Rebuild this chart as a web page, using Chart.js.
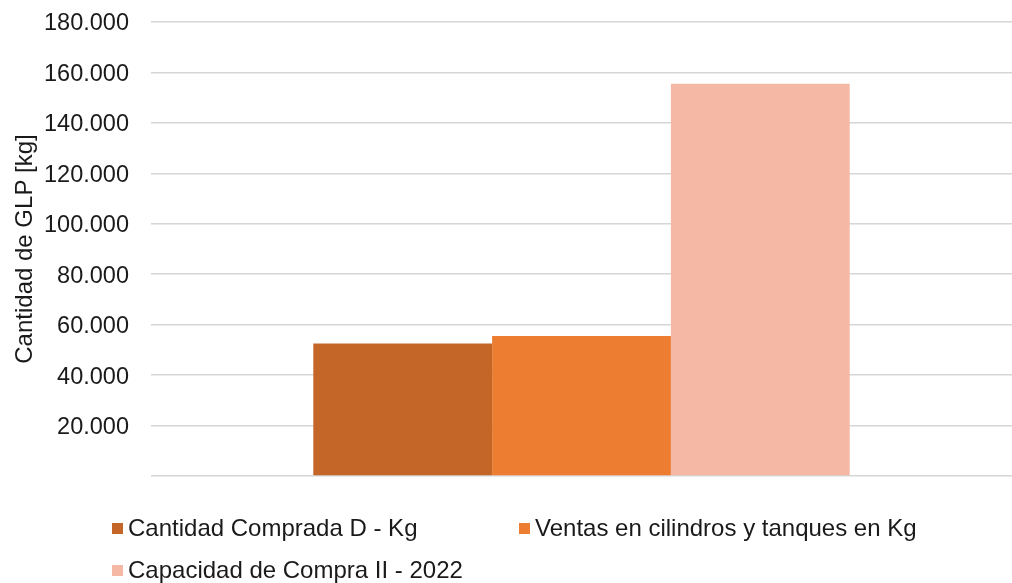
<!DOCTYPE html>
<html>
<head>
<meta charset="utf-8">
<script src="https://cdn.jsdelivr.net/npm/chart.js@4"></script>
<style>
  html, body { margin: 0; padding: 0; background: #fff; }
  #wrap { position: relative; width: 1012px; height: 583px; }
  #legend {
    position: absolute; left: 112px; top: 513px;
    display: grid; grid-template-columns: 407px auto; row-gap: 12px;
    font-family: 'Liberation Sans', Arial, sans-serif; font-size: 24px; color: #1a1a1a;
  }
  .item { display: flex; align-items: center; height: 30px; white-space: nowrap; }
  .box { width: 11px; height: 11px; margin-right: 5px; }
</style>
</head>
<body>
<div id="wrap">
  <canvas id="myChart" width="1012" height="583"></canvas>
  <div id="legend"></div>
</div>
<script>
const categories = [''];
const seriesNames = ['Cantidad Comprada D - Kg', 'Ventas en cilindros y tanques en Kg', 'Capacidad de Compra II - 2022'];
const seriesValues = [[52500], [55500], [155500]];
const seriesColors = ['#C46628', '#ED7D31', '#F4B8A4'];

const ctx = document.getElementById('myChart').getContext('2d');
const myChart = new Chart(ctx, {
  type: 'bar',
  data: {
    labels: categories,
    datasets: seriesNames.map((name, i) => ({
      label: name,
      data: seriesValues[i],
      backgroundColor: seriesColors[i],
      borderWidth: 0,
      categoryPercentage: 0.623,
      barPercentage: 1
    }))
  },
  options: {
    responsive: false,
    animation: false,
    layout: { padding: { top: 22, left: 7, right: 0, bottom: 107 } },
    scales: {
      x: { display: false },
      y: {
        min: 0,
        max: 180000,
        border: { display: false },
        grid: { color: '#d6d6d6', lineWidth: 1.5, drawTicks: false },
        ticks: {
          stepSize: 20000,
          padding: 22,
          labelOffset: 2,
          color: '#1a1a1a',
          font: { family: "'Liberation Sans', Arial", size: 23.5 },
          callback: v => v === 0 ? '' : v.toLocaleString('de-DE')
        },
        title: {
          display: true,
          text: 'Cantidad de GLP [kg]',
          color: '#1a1a1a',
          font: { family: "'Liberation Sans', Arial", size: 24 }
        },
        afterFit: scale => {
          scale.width = 144;
          scale.paddingTop = 0;
          scale.paddingBottom = 0;
        }
      }
    },
    plugins: {
      legend: { display: false },
      tooltip: { enabled: false }
    }
  }
});

// legend drawn as html from the datasets
const legendEl = document.getElementById('legend');
myChart.data.datasets.forEach(ds => {
  const item = document.createElement('div');
  item.className = 'item';
  item.innerHTML = `<span class="box" style="background:${ds.backgroundColor}"></span><span>${ds.label}</span>`;
  legendEl.appendChild(item);
});
</script>
</body>
</html>
